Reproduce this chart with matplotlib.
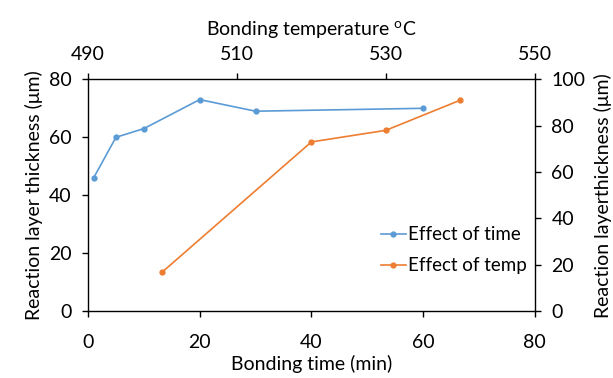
import matplotlib
matplotlib.use('Agg')
import matplotlib.pyplot as plt

# data
time_min = [1, 5, 10, 20, 30, 60]
thick_time = [46, 60, 63, 73, 69, 70]

temp_c = [500, 520, 530, 540]
thick_temp = [17, 73, 78, 91]

x_ticks = [0, 20, 40, 60, 80]
y_ticks = [0, 20, 40, 60, 80]
top_ticks = [490, 510, 530, 550]
right_ticks = [0, 20, 40, 60, 80, 100]

BLUE = '#5B9BD5'
ORANGE = '#ED7D31'

plt.rcParams['font.family'] = ['Lato', 'DejaVu Sans']
plt.rcParams['mathtext.fontset'] = 'custom'
plt.rcParams['mathtext.rm'] = 'Lato'
plt.rcParams['font.size'] = 14

fig = plt.figure(figsize=(6.13, 3.78), dpi=100)
pos = [0.1436, 0.1765, 0.7287, 0.6137]
ax = fig.add_axes(pos)
ax2 = fig.add_axes(pos, frameon=False)

# time series on bottom / left axes
l1, = ax.plot(time_min, thick_time, color=BLUE, lw=1.2, marker='o', ms=3.5,
              label='Effect of time')
ax.set_xlim(0, 80)
ax.set_ylim(0, 80)
ax.set_xticks(x_ticks)
ax.set_yticks(y_ticks)
ax.set_xlabel('Bonding time (min)', labelpad=3)
ax.set_ylabel('Reaction layer thickness (μm)', labelpad=4)

# temperature series on top / right axes
l2, = ax2.plot(temp_c, thick_temp, color=ORANGE, lw=1.2, marker='o', ms=3.5,
               label='Effect of temp')
ax2.set_xlim(490, 550)
ax2.set_ylim(0, 100)
ax2.set_xticks(top_ticks)
ax2.set_yticks(right_ticks)
ax2.xaxis.tick_top()
ax2.yaxis.tick_right()
ax2.xaxis.set_label_position('top')
ax2.yaxis.set_label_position('right')
ax2.set_xlabel('Bonding temperature $^{\\mathrm{o}}$C', labelpad=7)
ax2.set_ylabel('Reaction layerthickness (μm)', labelpad=6)

for a in (ax, ax2):
    a.tick_params(direction='out', length=4, width=1, pad=8, colors='black',
                  labelsize=14)
ax.tick_params(axis='x', pad=12)
for s in ax.spines.values():
    s.set_linewidth(1)
    s.set_color('black')

ax.legend(handles=[l1, l2], loc='lower right', bbox_to_anchor=(1.0, 0.127),
          frameon=False, handlelength=1.3, handletextpad=0.15,
          labelspacing=0.75, fontsize=13.5, borderaxespad=0)

fig.savefig('out.png', dpi=100)
